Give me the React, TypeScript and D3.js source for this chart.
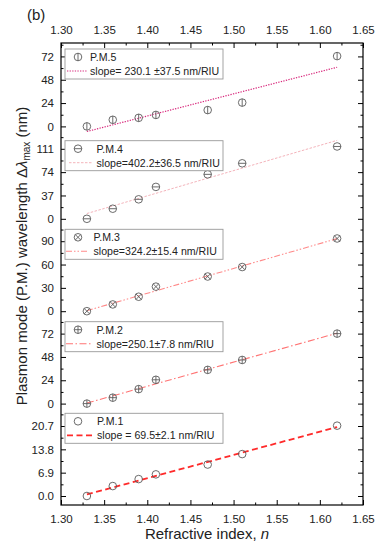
import React, { useLayoutEffect, useRef } from 'react';
import * as d3 from 'd3';

// refractive index of the surrounding medium
const refractiveIndex = [1.33, 1.36, 1.39, 1.41, 1.47, 1.51, 1.62];

// wavelength shift of each plasmon mode (nm), bottom panel first
const pm1Values = [0, 2.94, 5.0, 6.4, 9.3, 12.4, 20.8];
const pm2Values = [0, 6.1, 14.9, 24.5, 34.7, 44.9, 72];
const pm3Values = [0, 8.7, 18.6, 31.6, 44.6, 56.8, 93.5];
const pm4Values = [0, 16, 30.9, 50.6, 70.5, 88, 114.7];
const pm5Values = [0, 6.8, 8.8, 11.8, 16.8, 24.5, 72.3];

const seriesNames = ['P.M.1', 'P.M.2', 'P.M.3', 'P.M.4', 'P.M.5'];
const slopeLabels = [
  'slope = 69.5\u00b12.1 nm/RIU',
  'slope=250.1\u00b17.8 nm/RIU',
  'slope=324.2\u00b115.4 nm/RIU',
  'slope=402.2\u00b136.5 nm/RIU',
  'slope= 230.1 \u00b137.5 nm/RIU',
];
const yTickSteps = [6.9, 24, 30, 37, 24];
const yTickFormats = ['.1f', 'd', 'd', 'd', 'd'];
const xTicks = [1.3, 1.35, 1.4, 1.45, 1.5, 1.55, 1.6, 1.65];

const allSeries = [pm1Values, pm2Values, pm3Values, pm4Values, pm5Values];

type MarkerType = 'circle' | 'plus' | 'cross' | 'hline' | 'vline';

const seriesStyles: {
  color: string;
  dash: string;
  width: number;
  marker: MarkerType;
  legendTop: number;
  legendTextX: number;
  legendLine: [number, number];
}[] = [
  { color: '#ff2a2a', dash: '6,3.5', width: 1.8, marker: 'circle', legendTop: 0.7, legendTextX: 97, legendLine: [67, 92] },
  { color: '#ff7474', dash: '7,2.5,1.5,2.5', width: 1.1, marker: 'plus', legendTop: 1.5, legendTextX: 96.5, legendLine: [66, 92] },
  { color: '#ff8a8a', dash: '6,2,1.5,2,1.5,2', width: 1.1, marker: 'cross', legendTop: 1.5, legendTextX: 93.5, legendLine: [66, 89] },
  { color: '#f0a0a8', dash: '2.5,1.5', width: 0.8, marker: 'hline', legendTop: 5.3, legendTextX: 96.5, legendLine: [69, 93] },
  { color: '#d8287c', dash: '1.3,1.3', width: 1.2, marker: 'vline', legendTop: 6, legendTextX: 90, legendLine: [67, 87] },
];

const width = 384;
const height = 550;
const frame = { left: 61, right: 363, top: 43, bottom: 505 };
const panelCount = 5;
const panelH = (frame.bottom - frame.top) / panelCount;
const zeroOffset = 9;
const stepPx = 23.33;
const font = '"Liberation Sans", Arial, sans-serif';
const markerColor = '#5a5a5a';

const drawMarker = (
  g: d3.Selection<SVGGElement, unknown, null, undefined>,
  type: MarkerType,
  cx: number,
  cy: number,
  r: number,
) => {
  const m = g.append('g').attr('stroke', markerColor).attr('stroke-width', 0.9).attr('fill', 'none');
  m.append('circle').attr('cx', cx).attr('cy', cy).attr('r', r);
  const seg = (x1: number, y1: number, x2: number, y2: number) =>
    m.append('line').attr('x1', cx + x1).attr('y1', cy + y1).attr('x2', cx + x2).attr('y2', cy + y2);
  if (type === 'plus') {
    seg(-r, 0, r, 0);
    seg(0, -r, 0, r);
  } else if (type === 'cross') {
    const d = r * 0.707;
    seg(-d, -d, d, d);
    seg(-d, d, d, -d);
  } else if (type === 'hline') {
    seg(-r, 0, r, 0);
  } else if (type === 'vline') {
    seg(0, -r, 0, r);
  }
};

const buildChart = (container: HTMLDivElement) => {
  d3.select(container).selectAll('*').remove();
  const svg = d3
    .select(container)
    .append('svg')
    .attr('width', width)
    .attr('height', height)
    .style('position', 'absolute')
    .style('left', '0px')
    .style('top', '0px')
    .style('background', '#fff');

  const root = svg.append('g') as d3.Selection<SVGGElement, unknown, null, undefined>;

  const xScale = d3.scaleLinear().domain([1.3, 1.65]).range([frame.left, frame.right]);
  const xMinor = d3.range(0, 15).map((i) => 1.3 + 0.025 * i).filter((v, i) => i % 2 === 1);

  const styleAxis = (g: d3.Selection<SVGGElement, unknown, null, undefined>) => {
    g.attr('font-size', 11.5).attr('font-family', font);
    g.select('.domain').remove();
    g.selectAll('.tick line').attr('stroke', '#000').attr('stroke-width', 1);
    g.selectAll('.tick text').attr('fill', '#222');
  };

  // top and bottom axes
  const topG = root.append('g').attr('transform', `translate(0,${frame.top})`);
  topG.call(d3.axisTop(xScale).tickValues(xTicks).tickSize(-5).tickPadding(9.5).tickFormat(d3.format('.2f')));
  styleAxis(topG);
  const topMinor = root.append('g').attr('transform', `translate(0,${frame.top})`);
  topMinor.call(d3.axisTop(xScale).tickValues(xMinor).tickSize(-2.5).tickFormat(() => ''));
  styleAxis(topMinor);

  const botG = root.append('g').attr('transform', `translate(0,${frame.bottom})`);
  botG.call(d3.axisBottom(xScale).tickValues(xTicks).tickSize(-5).tickPadding(9.5).tickFormat(d3.format('.2f')));
  styleAxis(botG);
  const botMinor = root.append('g').attr('transform', `translate(0,${frame.bottom})`);
  botMinor.call(d3.axisBottom(xScale).tickValues(xMinor).tickSize(-2.5).tickFormat(() => ''));
  styleAxis(botMinor);

  allSeries.forEach((values, i) => {
    const step = yTickSteps[i];
    const style = seriesStyles[i];
    const pBottom = frame.bottom - i * panelH;
    const pTop = pBottom - panelH;
    const yScale = d3
      .scaleLinear()
      .domain([(-zeroOffset / stepPx) * step, ((panelH - zeroOffset) / stepPx) * step])
      .range([pBottom, pTop]);
    const major = [0, 1, 2, 3].map((k) => k * step);
    const minor = [0.5, 1.5, 2.5, 3.5].map((k) => k * step);

    const leftG = root.append('g').attr('transform', `translate(${frame.left},0)`);
    leftG.call(d3.axisLeft(yScale).tickValues(major).tickSize(-5).tickPadding(7).tickFormat(d3.format(yTickFormats[i])));
    styleAxis(leftG);
    const leftMinor = root.append('g').attr('transform', `translate(${frame.left},0)`);
    leftMinor.call(d3.axisLeft(yScale).tickValues(minor).tickSize(-2.5).tickFormat(() => ''));
    styleAxis(leftMinor);
    const rightG = root.append('g').attr('transform', `translate(${frame.right},0)`);
    rightG.call(d3.axisRight(yScale).tickValues(major).tickSize(-5).tickFormat(() => ''));
    styleAxis(rightG);
    const rightMinor = root.append('g').attr('transform', `translate(${frame.right},0)`);
    rightMinor.call(d3.axisRight(yScale).tickValues(minor).tickSize(-2.5).tickFormat(() => ''));
    styleAxis(rightMinor);

    // linear fit
    const mx = d3.mean(refractiveIndex) || 0;
    const my = d3.mean(values) || 0;
    const sxy = d3.sum(refractiveIndex, (x, j) => (x - mx) * (values[j] - my));
    const sxx = d3.sum(refractiveIndex, (x) => (x - mx) * (x - mx));
    const slope = sxy / sxx;
    const fitX = d3.extent(refractiveIndex) as [number, number];
    const fitData = fitX.map((x) => ({ x, y: my + slope * (x - mx) }));
    const fitLine = d3
      .line<{ x: number; y: number }>()
      .x((d) => xScale(d.x))
      .y((d) => yScale(d.y));
    root
      .append('path')
      .datum(fitData)
      .attr('d', fitLine)
      .attr('fill', 'none')
      .attr('stroke', style.color)
      .attr('stroke-width', style.width)
      .attr('stroke-dasharray', style.dash);

    const pts = root.append('g') as d3.Selection<SVGGElement, unknown, null, undefined>;
    values.forEach((v, j) => {
      drawMarker(pts, style.marker, xScale(refractiveIndex[j]), yScale(v), 3.8);
    });

    // legend
    const boxTop = pTop + style.legendTop;
    const lg = root.append('g') as d3.Selection<SVGGElement, unknown, null, undefined>;
    lg.append('rect')
      .attr('x', 65)
      .attr('y', boxTop)
      .attr('width', 158)
      .attr('height', 30)
      .attr('fill', '#fff')
      .attr('stroke', '#999')
      .attr('stroke-width', 0.9);
    drawMarker(lg, style.marker, 78, boxTop + 8, 3.8);
    lg.append('text')
      .attr('x', style.legendTextX)
      .attr('y', boxTop + 8)
      .attr('dy', '0.36em')
      .attr('font-size', 10.6)
      .attr('font-family', font)
      .attr('fill', '#222')
      .text(seriesNames[i]);
    lg.append('line')
      .attr('x1', style.legendLine[0])
      .attr('x2', style.legendLine[1])
      .attr('y1', boxTop + 22)
      .attr('y2', boxTop + 22)
      .attr('stroke', style.color)
      .attr('stroke-width', style.width)
      .attr('stroke-dasharray', style.dash);
    lg.append('text')
      .attr('x', style.legendTextX)
      .attr('y', boxTop + 22)
      .attr('dy', '0.36em')
      .attr('font-size', 10.6)
      .attr('font-family', font)
      .attr('fill', '#222')
      .text(slopeLabels[i]);
  });

  // frame
  root
    .append('rect')
    .attr('x', frame.left)
    .attr('y', frame.top)
    .attr('width', frame.right - frame.left)
    .attr('height', frame.bottom - frame.top)
    .attr('fill', 'none')
    .attr('stroke', '#000')
    .attr('stroke-width', 1.2);

  // titles
  const xTitle = root
    .append('text')
    .attr('x', (frame.left + frame.right) / 2 - 5)
    .attr('y', 538.5)
    .attr('text-anchor', 'middle')
    .attr('font-size', 15)
    .attr('font-family', font)
    .attr('fill', '#222');
  xTitle.append('tspan').text('Refractive index, ');
  xTitle.append('tspan').attr('font-style', 'italic').text('n');

  const yTitle = root
    .append('text')
    .attr('transform', 'translate(26.5,256) rotate(-90)')
    .attr('text-anchor', 'middle')
    .attr('font-size', 15)
    .attr('font-family', font)
    .attr('fill', '#222');
  yTitle.append('tspan').text('Plasmon mode (P.M.) wavelength \u0394');
  yTitle.append('tspan').attr('font-style', 'italic').text('\u03bb');
  yTitle.append('tspan').attr('font-size', 10).attr('dy', 3).text('max');
  yTitle.append('tspan').attr('dy', -3).text(' (nm)');

  root
    .append('text')
    .attr('x', 27)
    .attr('y', 20)
    .attr('font-size', 15)
    .attr('font-family', font)
    .attr('fill', '#222')
    .text('(b)');
};

export const PlasmonChart: React.FC = () => {
  const rootEl = useRef<HTMLDivElement>(null);

  useLayoutEffect(() => {
    if (rootEl.current) buildChart(rootEl.current);
  }, []);

  return <div className="plasmon-container" ref={rootEl} />;
};

export default function App() {
  return <PlasmonChart />;
}
